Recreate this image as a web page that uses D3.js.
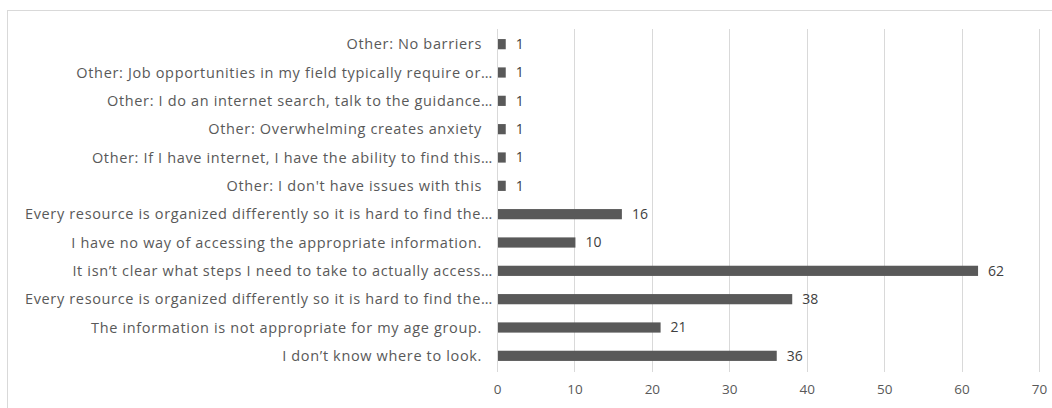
<!DOCTYPE html>
<html>
<head>
<meta charset="utf-8">
<script src="https://cdn.jsdelivr.net/npm/d3@7"></script>
<style>
  html, body { margin: 0; padding: 0; background: #fff; }
  svg { display: block; }
</style>
</head>
<body>
<svg id="chart" width="1052" height="408"></svg>
<script>
const categories = [
  "Other: No barriers",
  "Other: Job opportunities in my field typically require or…",
  "Other: I do an internet search, talk to the guidance…",
  "Other: Overwhelming creates anxiety",
  "Other: If I have internet, I have the ability to find this…",
  "Other: I don't have issues with this",
  "Every resource is organized differently so it is hard to find the…",
  "I have no way of accessing the appropriate information.",
  "It isn’t clear what steps I need to take to actually access…",
  "Every resource is organized differently so it is hard to find the…",
  "The information is not appropriate for my age group.",
  "I don’t know where to look."
];
const values = [1, 1, 1, 1, 1, 1, 16, 10, 62, 38, 21, 36];
const xTicks = [0, 10, 20, 30, 40, 50, 60, 70];

const svg = d3.select("#chart");
const W = 1052, H = 408;
const margin = { left: 497, right: 13, top: 30, bottom: 38 };

// chart border
svg.append("rect")
  .attr("x", 7.5).attr("y", 10.5)
  .attr("width", W + 10).attr("height", H + 10)
  .attr("fill", "#fff").attr("stroke", "#d9d9d9").attr("stroke-width", 1);

const x = d3.scaleLinear().domain([0, 70]).range([margin.left, W - margin.right]);
const y = d3.scaleBand().domain(d3.range(categories.length))
  .range([margin.top, H - margin.bottom]).paddingInner(0.64).paddingOuter(0.32);

// gridlines
svg.append("g")
  .selectAll("line").data(xTicks).join("line")
  .attr("x1", d => Math.round(x(d)) + 0.5).attr("x2", d => Math.round(x(d)) + 0.5)
  .attr("y1", margin.top - 1).attr("y2", H - margin.bottom + 2)
  .attr("stroke", "#d9d9d9").attr("stroke-width", 1);

// x axis labels
const xAxis = d3.axisBottom(x).tickValues(xTicks).tickSize(0).tickPadding(0);
const gx = svg.append("g").attr("transform", `translate(0,${H - margin.bottom + 14})`).call(xAxis);
gx.select(".domain").remove();
gx.selectAll("text")
  .attr("fill", "#595959").attr("font-family", "'Open Sans', sans-serif").attr("font-size", 13.5);

// bars
svg.append("g").selectAll("rect").data(values).join("rect")
  .attr("x", x(0) + 1)
  .attr("y", (d, i) => y(i))
  .attr("width", d => x(d) - x(0))
  .attr("height", y.bandwidth())
  .attr("fill", "#595959");

// category labels
svg.append("g").selectAll("text").data(categories).join("text")
  .attr("x", d => d.endsWith("…") ? x(0) - 4 : x(0) - 15)
  .attr("y", (d, i) => y(i) + y.bandwidth() / 2)
  .attr("dy", "0.35em")
  .attr("text-anchor", "end")
  .attr("fill", "#595959")
  .attr("font-family", "'Open Sans', sans-serif")
  .attr("font-size", 14.5)
  .attr("letter-spacing", 0.65)
  .text(d => d);

// value labels
svg.append("g").selectAll("text").data(values).join("text")
  .attr("x", d => x(d) + 11)
  .attr("y", (d, i) => y(i) + y.bandwidth() / 2)
  .attr("dy", "0.35em")
  .attr("fill", "#404040")
  .attr("font-family", "'Open Sans', sans-serif")
  .attr("font-size", 14)
  .text(d => d);
</script>
</body>
</html>
